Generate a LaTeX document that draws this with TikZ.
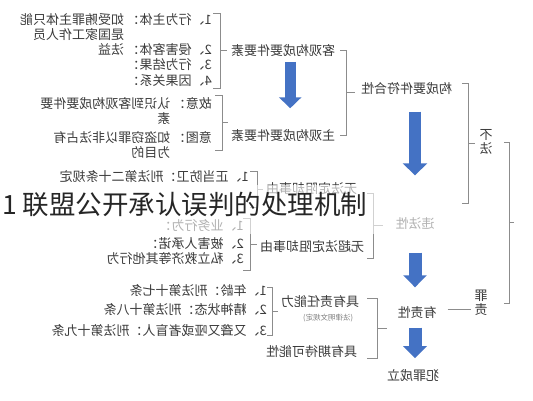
\documentclass[tikz,border=0pt]{standalone}
\usepackage{fontspec}
\newfontfamily\cjk{Noto Sans CJK SC}
\usetikzlibrary{arrows.meta}
\definecolor{txt}{HTML}{3C3C3C}
\definecolor{brkgray}{HTML}{8C8C8C}
\definecolor{arrowblue}{HTML}{4472C4}
\begin{document}
\begin{tikzpicture}[x=1pt, y=1pt,
  item/.style={anchor=west, inner sep=1pt, text=txt, font=\cjk\fontsize{13}{14.5}\selectfont},
  more/.style={item, anchor=north west, align=left},
  lbl/.style={item, anchor=east},
  brk/.style={draw=brkgray, line width=0.6pt},
  bigarrow/.style={draw=arrowblue, line width=12pt, -{Triangle[width=24pt,length=12pt]}}]
\fill[white] (0,0) rectangle (533,400);
\useasboundingbox (0,0) rectangle (533,400);

% the chart is printed mirror-wise
\begin{scope}[xshift=533pt, xscale=-1, every node/.append style={transform shape}]
  % objective elements
  \node[item] (xw1) at (320,380) {1、行为主体：};
  \node[more] at (xw1.north east) {如受贿罪主体只能\\是国家工作人员};
  \node[item] (xw2) at (320,350) {2、侵害客体：};
  \node[more] at (xw2.north east) {法益};
  \node[item] (xw3) at (320,335) {3、行为结果：};
  \node[item] (xw4) at (320,319) {4、因果关系：};
  % subjective elements
  \node[item] (zg1) at (320,296) {故意：};
  \node[more] at (zg1.north east) {认识到客观构成要件要\\素};
  \node[item] (zg2) at (320,262) {意图：};
  \node[more] at (zg2.north east) {如盗窃罪以非法占有\\为目的};
  % grounds of justification
  \node[item] (fd1) at (283,223) {1、正当防卫：刑法第二十条规定};
  \node[item] (cd1) at (288,174) {1、业务行为：};
  \node[item] (cd2) at (288,156) {2、被害人承诺：};
  \node[item] (cd3) at (288,141) {3、私立救济等其他行为};
  % capacity
  \node[item] (nl1) at (265,109) {1、年龄：刑法第十七条};
  \node[item] (nl2) at (265,90) {2、精神状态：刑法第十八条};
  \node[item] (nl3) at (265,70) {3、又聋又哑或者盲人：刑法第十九条};

  \node[lbl] (kg) at (303,349) {客观构成要件要素};
  \node[lbl] (zg) at (303,264) {主观构成要件要素};
  \node[lbl] (gc) at (173,311) {构成要件符合性};
  \node[lbl] (wfd) at (268,211) {无法定阻却事由};
  \node[lbl] (wcd) at (274,153) {无超法定阻却事由};
  \node[item, anchor=center] (wf) at (118,176) {违法性};
  \node[lbl] (zrn) at (253,98) {具有责任能力};
  \node[item, anchor=north, text=gray, font=\cjk\fontsize{7.5}{9}\selectfont] (zrs) at ([xshift=-8pt,yshift=-4pt]zrn.south) {(法律明文规定)};
  \node[lbl] (qd) at (268,48) {具有期待可能性};
  \node[item, anchor=center] (yz) at (116,87) {有责性};
  \node[item, anchor=center] (fz) at (120,24) {犯罪成立};
  \node[item, anchor=center, align=center] (bf) at (47,258) {不\\法};
  \node[item, anchor=center, align=center] (zz) at (52,97) {罪\\责};

  % brackets: vertical x / top / bottom / ends / tick
  \foreach \u/\t/\b/\e/\k in {313/387/312/320/306, 311/305/250/318/305, 187/350/265/193/178,
      65/317/197/71/58, 276/229/193/283/270, 283/182/130/290/276, 160/207/142/166/150,
      261/113/65/266/255, 156/102/42/166/146, 24/258/97/29/19}
    \draw[brk] (\e,\t) -| (\u,\b) -- (\e,\b) (\u,{(\t+\b)/2}) -- (\k,{(\t+\b)/2});

  \draw[brk, shorten <=10pt, shorten >=2pt] ([yshift=4pt]yz.west) -- ([yshift=4pt]yz.west -| zz.east);

  % block arrows
  \draw[bigarrow, line width=11pt, -{Triangle[width=22pt,length=11pt]}, shorten <=3.5pt, shorten >=20.5pt]
    ([xshift=-7pt]kg.south) -- ([xshift=-7pt]zg.north);
  \draw[bigarrow, shorten <=15.5pt, shorten >=41.5pt] (gc.south -| wf.north) -- (wf.north);
  \draw[bigarrow, line width=13pt, -{Triangle[width=23pt,length=12pt]}, shorten <=21.5pt, shorten >=18.5pt]
    (wf.south) -- (wf.south |- yz.north);
  \draw[bigarrow, line width=13pt, -{Triangle[width=23pt,length=12pt]}, shorten <=7.5pt, shorten >=10.5pt]
    (yz.south -| wf.south) -- (fz.north -| wf.south);
\end{scope}

% caption laid over the chart
\fill[white, fill opacity=0.6] (0,166) rectangle (445,215);
\node[anchor=west, inner sep=0pt, text=black!85, font=\cjk\fontsize{26.5}{30}\selectfont] (mark) at (2,196) {1 联盟公开承认误判的处理机制};
\end{tikzpicture}
\end{document}
